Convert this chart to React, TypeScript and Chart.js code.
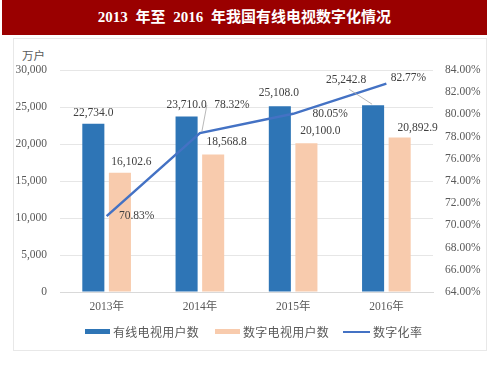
import React, { useEffect, useRef } from "react";
import { Chart, registerables } from "chart.js";

Chart.register(...registerables);

const categories = ["2013年", "2014年", "2015年", "2016年"];
const cableUsers = [22734.0, 23710.0, 25108.0, 25242.8];
const digitalUsers = [16102.6, 18568.8, 20100.0, 20892.9];
const digitalRate = [70.83, 78.32, 80.05, 82.77];
const seriesNames = ["有线电视用户数", "数字电视用户数", "数字化率"];
const titleText = "2013 年至 2016 年我国有线电视数字化情况";
const unitText = "万户";

const BLUE = "#2E75B6";
const PEACH = "#F8CBAD";
const LINE = "#4472C4";
const TEXT = "#404040";
const AXIS_TEXT = "#595959";

// label offsets (style) relative to each mark's anchor
const labelOffsets: [number, number][][] = [
  [[0, -11], [0, -11.5], [-1, -13], [-27, -25]],
  [[11.5, -11], [13.5, -12.5], [14, -12.5], [18, -9.5]],
  [[30, 0], [32, -28], [37, 0], [22, -6]],
];

const fmtNum = (v: number) =>
  v.toLocaleString("en-US", { minimumFractionDigits: 1, maximumFractionDigits: 1 });
const fmtPct = (v: number) => v.toFixed(2) + "%";

const labelPlugin = {
  id: "valueLabels",
  afterDatasetsDraw(chart: any) {
    const ctx = chart.ctx;
    ctx.save();
    ctx.font = '11.5px "Liberation Serif", serif';
    ctx.fillStyle = TEXT;
    ctx.textAlign = "center";
    ctx.textBaseline = "middle";
    chart.data.datasets.forEach((ds: any, di: number) => {
      const meta = chart.getDatasetMeta(di);
      meta.data.forEach((el: any, i: number) => {
        const { x, y } = el.getProps(["x", "y"], true);
        const [dx, dy] = labelOffsets[di][i];
        const txt = di === 2 ? fmtPct(ds.data[i]) : fmtNum(ds.data[i]);
        ctx.fillText(txt, x + dx, y + dy);
      });
    });
    // leader lines
    ctx.strokeStyle = "#a6a6a6";
    ctx.lineWidth = 0.8;
    const lm = chart.getDatasetMeta(2).data[1];
    if (lm) {
      ctx.beginPath();
      ctx.moveTo(lm.x + 7, lm.y - 28);
      ctx.lineTo(lm.x + 2, lm.y - 1.5);
      ctx.stroke();
    }
    const bm = chart.getDatasetMeta(0).data[3];
    if (bm) {
      ctx.beginPath();
      ctx.moveTo(bm.x - 24, bm.y - 16);
      ctx.lineTo(bm.x - 1, bm.y - 1);
      ctx.stroke();
    }
    ctx.restore();
  },
};

export default function App() {
  const canvasRef = useRef<HTMLCanvasElement | null>(null);

  useEffect(() => {
    if (!canvasRef.current) return;
    const tickFont = { family: '"Liberation Serif", "Noto Sans CJK SC", serif', size: 11.5 };
    const chart = new Chart(canvasRef.current, {
      type: "bar",
      data: {
        labels: categories,
        datasets: [
          {
            type: "bar",
            label: seriesNames[0],
            data: cableUsers,
            backgroundColor: BLUE,
            yAxisID: "y",
            order: 1,
            categoryPercentage: 0.57,
            barPercentage: 0.83,
          },
          {
            type: "bar",
            label: seriesNames[1],
            data: digitalUsers,
            backgroundColor: PEACH,
            yAxisID: "y",
            order: 1,
            categoryPercentage: 0.57,
            barPercentage: 0.83,
          },
          {
            type: "line",
            label: seriesNames[2],
            data: digitalRate,
            borderColor: LINE,
            backgroundColor: LINE,
            borderWidth: 2.5,
            pointRadius: 0,
            tension: 0,
            yAxisID: "y1",
            order: 0,
          },
        ],
      } as any,
      options: {
        responsive: false,
        animation: false,
        devicePixelRatio: 1,
        layout: { padding: { top: 70, bottom: 53, left: 0, right: 0 } },
        plugins: { legend: { display: false }, tooltip: { enabled: false }, title: { display: false } },
        scales: {
          x: {
            grid: { display: false, drawTicks: false },
            border: { display: true, color: "#d9d9d9", width: 1 },
            ticks: { font: tickFont, color: AXIS_TEXT, padding: 8 },
            afterFit: (s: any) => { s.height = 30; },
          },
          y: {
            position: "left",
            min: 0,
            max: 30000,
            ticks: {
              stepSize: 5000,
              font: tickFont,
              color: AXIS_TEXT,
              padding: 13,
              callback: (v: any) => Number(v).toLocaleString("en-US"),
            },
            grid: { color: "#e6e6e6", drawTicks: false },
            border: { display: false },
            afterFit: (s: any) => { s.width = 60; },
          },
          y1: {
            position: "right",
            min: 64,
            max: 84,
            ticks: {
              stepSize: 2,
              font: tickFont,
              color: AXIS_TEXT,
              padding: 12,
              callback: (v: any) => Number(v).toFixed(2) + "%",
            },
            grid: { display: false, drawTicks: false },
            border: { display: false },
            afterFit: (s: any) => { s.width = 67; },
          },
        },
      } as any,
      plugins: [labelPlugin],
    });
    return () => chart.destroy();
  }, []);

  const legendText: React.CSSProperties = {
    position: "absolute",
    top: 323,
    fontFamily: '"Noto Sans CJK SC", sans-serif',
    fontSize: 12,
    lineHeight: "17px",
    color: AXIS_TEXT,
    whiteSpace: "nowrap",
    letterSpacing: 0.3,
  };

  return (
    <div style={{ position: "fixed", left: 0, top: 0, width: 500, height: 375, background: "#fff", overflow: "hidden" }}>
      <div
        style={{
          position: "absolute",
          left: 2,
          top: 0,
          width: 485,
          height: 35,
          background: "#9a0000",
          color: "#fff",
          fontFamily: '"Liberation Serif", "Noto Sans CJK SC", serif',
          fontWeight: "bold",
          fontSize: 15,
          lineHeight: "35px",
          textAlign: "center",
          whiteSpace: "pre",
          wordSpacing: 4,
        }}
      >
        {titleText}
      </div>
      <div
        style={{
          position: "absolute",
          left: 13,
          top: 38,
          width: 472,
          height: 311,
          border: "1px solid #e8e8e8",
        }}
      />
      <div
        style={{
          position: "absolute",
          left: 22,
          top: 47,
          fontFamily: '"Noto Sans CJK SC", sans-serif',
          fontSize: 11.5,
          lineHeight: "16px",
          color: AXIS_TEXT,
        }}
      >
        {unitText}
      </div>
      <canvas ref={canvasRef} width={500} height={375} style={{ position: "absolute", left: 0, top: 0 }} />
      <div style={{ position: "absolute", left: 85, top: 329, width: 25, height: 5, background: BLUE }} />
      <div style={{ ...legendText, left: 113 }}>{seriesNames[0]}</div>
      <div style={{ position: "absolute", left: 215, top: 329, width: 25, height: 5, background: PEACH }} />
      <div style={{ ...legendText, left: 243 }}>{seriesNames[1]}</div>
      <div style={{ position: "absolute", left: 343, top: 330.5, width: 27, height: 2.5, background: LINE }} />
      <div style={{ ...legendText, left: 373 }}>{seriesNames[2]}</div>
    </div>
  );
}
